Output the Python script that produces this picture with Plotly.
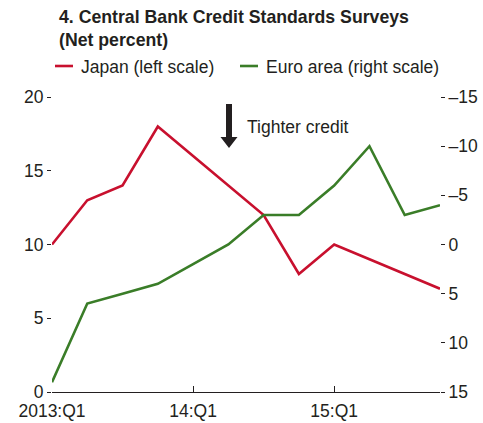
import plotly.graph_objects as go

quarters = ['2013:Q1', '2013:Q2', '2013:Q3', '2013:Q4',
            '2014:Q1', '2014:Q2', '2014:Q3', '2014:Q4',
            '2015:Q1', '2015:Q2', '2015:Q3', '2015:Q4']
japan = [10, 13, 14, 18, 16, 14, 12, 8, 10, 9, 8, 7]
euro_area = [14, 6, 5, 4, 2, 0, -3, -3, -6, -10, -3, -4]

x_tickvals = ['2013:Q1', '2014:Q1', '2015:Q1']
x_ticktext = ['2013:Q1', '14:Q1', '15:Q1']
left_ticks = [0, 5, 10, 15, 20]
right_ticks = [-15, -10, -5, 0, 5, 10, 15]
right_ticktext = ['\u201315', '\u201310', '\u20135', '0', '5', '10', '15']

japan_name = 'Japan (left scale)'
euro_name = 'Euro area (right scale)'
title_lines = ['4. Central Bank Credit Standards Surveys', '(Net percent)']
arrow_text = 'Tighter credit'

RED = '#c8102e'
GREEN = '#3a7d28'
INK = '#231f20'
FONT = 'Liberation Sans, Arial, sans-serif'

W, H = 483, 423
L, R, T, B = 52, 43, 97, 31
PW, PH = W - L - R, H - T - B


def px(x):
    return (x - L) / PW


def py(y):
    return (H - B - y) / PH


fig = go.Figure()
fig.add_trace(go.Scatter(x=quarters, y=japan, mode='lines', name=japan_name,
                         line=dict(color=RED, width=2.6), yaxis='y'))
fig.add_trace(go.Scatter(x=quarters, y=euro_area, mode='lines', name=euro_name,
                         line=dict(color=GREEN, width=2.6), yaxis='y2'))

shapes = []
# legend samples
shapes.append(dict(type='line', xref='paper', yref='paper', x0=px(55), x1=px(73), y0=py(66), y1=py(66),
                   line=dict(color=RED, width=2.6)))
shapes.append(dict(type='line', xref='paper', yref='paper', x0=px(240), x1=px(258), y0=py(66), y1=py(66),
                   line=dict(color=GREEN, width=2.6)))
# down arrow
shapes.append(dict(type='path', xref='paper', yref='paper',
                   path=(f'M {px(226)} {py(104)} L {px(232)} {py(104)} L {px(232)} {py(137)} '
                         f'L {px(237.5)} {py(137)} L {px(229)} {py(148)} L {px(220.5)} {py(137)} '
                         f'L {px(226)} {py(137)} Z'),
                   fillcolor=INK, line=dict(width=0)))

annotations = [
    dict(text='<br>'.join('<b>' + t + '</b>' for t in title_lines), xref='paper', yref='paper',
         x=px(57), y=py(5), xanchor='left', yanchor='top', align='left', showarrow=False,
         font=dict(family=FONT, size=17.7, color=INK)),
    dict(text=japan_name, xref='paper', yref='paper', x=px(79), y=py(67), xanchor='left', yanchor='middle',
         showarrow=False, font=dict(family=FONT, size=17.5, color=INK)),
    dict(text=euro_name, xref='paper', yref='paper', x=px(264), y=py(67), xanchor='left', yanchor='middle',
         showarrow=False, font=dict(family=FONT, size=17.5, color=INK)),
    dict(text=arrow_text, xref='paper', yref='paper', x=px(245), y=py(127), xanchor='left', yanchor='middle',
         showarrow=False, font=dict(family=FONT, size=17.5, color=INK)),
]

fig.update_layout(
    width=W, height=H,
    margin=dict(l=L, r=R, t=T, b=B, pad=0, autoexpand=False),
    paper_bgcolor='white', plot_bgcolor='white',
    showlegend=False,
    font=dict(family=FONT, size=17.5, color=INK),
    shapes=shapes, annotations=annotations,
    xaxis=dict(type='category', categoryorder='array', categoryarray=quarters,
               range=[0, len(quarters) - 1], tickvals=x_tickvals, ticktext=x_ticktext,
               ticks='inside', ticklen=6, tickcolor=INK, tickwidth=1, automargin=False,
               ticklabelstandoff=3,
               showline=True, linecolor=INK, linewidth=1.2, showgrid=False, zeroline=False),
    yaxis=dict(range=[0, 20], tickvals=left_ticks, ticks='outside', ticklen=4, tickcolor=INK,
               tickwidth=1, showline=False, showgrid=False, zeroline=False, automargin=False),
    yaxis2=dict(range=[15, -15], overlaying='y', side='right', tickvals=right_ticks,
                ticktext=right_ticktext, ticks='outside', ticklen=4, tickcolor=INK, tickwidth=1,
                showline=False, showgrid=False, zeroline=False, automargin=False),
)

fig.write_html('out.html', config={'displayModeBar': False},
               post_script="document.body.style.margin='0';document.body.style.overflow='hidden';")
